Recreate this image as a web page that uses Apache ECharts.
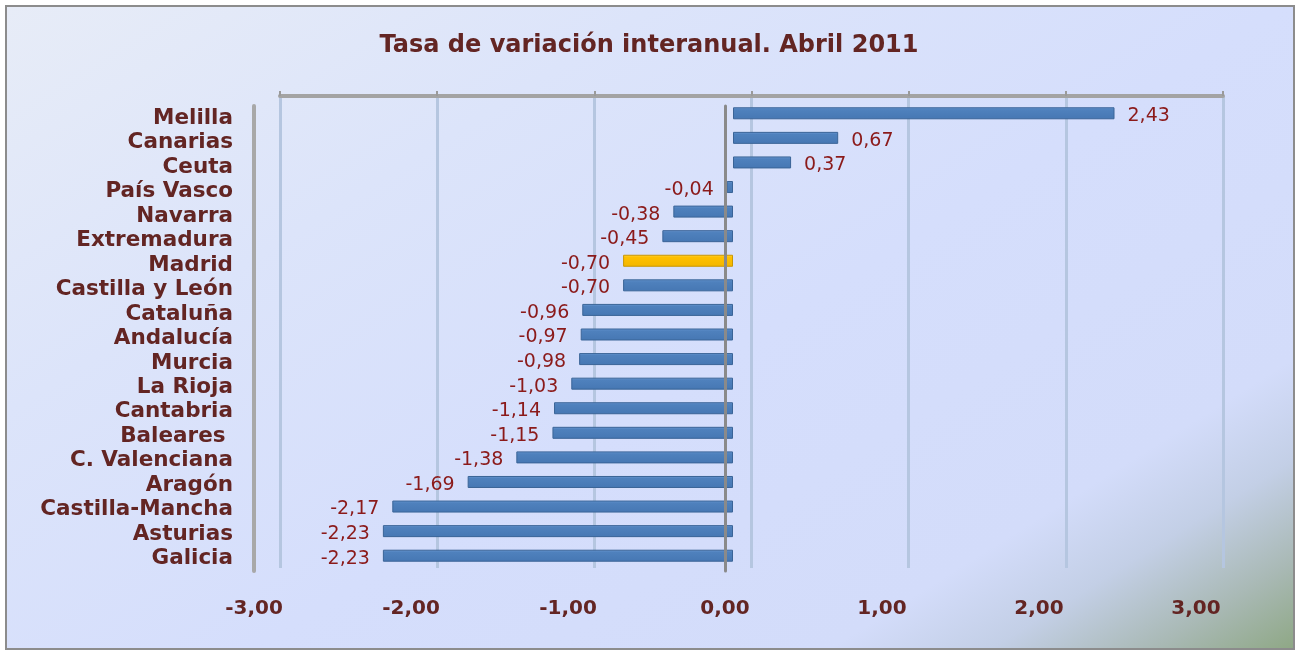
<!DOCTYPE html>
<html>
<head>
<meta charset="utf-8">
<script src="https://cdn.jsdelivr.net/npm/echarts@6/dist/echarts.min.js"></script>
<style>
html,body{margin:0;padding:0;width:1298px;height:653px;overflow:hidden;}
#frame{position:absolute;left:5px;top:5px;width:1290px;height:645px;box-sizing:border-box;border:2px solid #8c8c8c;
background:linear-gradient(148deg,#e7ecf7 0%,#dce4fa 28%,#d5defc 55%,#d3dcfa 80%,#c3cfe6 87%,#a9b9b5 94%,#8fa886 100%);}
#chart{position:absolute;left:0;top:0;width:1298px;height:653px;}
</style>
</head>
<body>
<div id="frame"></div>
<div id="chart"></div>
<script>
const categories = ['Melilla','Canarias','Ceuta','País Vasco','Navarra','Extremadura','Madrid','Castilla y León','Cataluña','Andalucía','Murcia','La Rioja','Cantabria','Baleares ','C. Valenciana','Aragón','Castilla-Mancha','Asturias','Galicia'];
const values = [2.43,0.67,0.37,-0.04,-0.38,-0.45,-0.70,-0.70,-0.96,-0.97,-0.98,-1.03,-1.14,-1.15,-1.38,-1.69,-2.17,-2.23,-2.23];
const highlighted = ['Madrid'];
const xMin = -3, xMax = 3, xStep = 1;
const titleText = 'Tasa de variación interanual. Abril 2011';

const fmt = v => v.toFixed(2).replace('.', ',');
const FONT = 'DejaVu Sans';
const blueGrad = new echarts.graphic.LinearGradient(0,0,0,1,[
  {offset:0,color:'#6d9bd6'},{offset:0.2,color:'#4f81bd'},{offset:1,color:'#4677b3'}]);
const yellowGrad = new echarts.graphic.LinearGradient(0,0,0,1,[
  {offset:0,color:'#ffd64d'},{offset:0.2,color:'#ffc000'},{offset:1,color:'#f2b600'}]);

const chart = echarts.init(document.getElementById('chart'), null, {renderer:'canvas'});
chart.setOption({
  backgroundColor: 'transparent',
  animation: false,
  title: {
    text: titleText, left: 'center', top: 29,
    textStyle: {fontFamily: FONT, fontSize: 24, fontWeight: 'bold', color: '#632523'}
  },
  grid: [
    {left: 280, right: 75, top: 96, bottom: 85},   // back wall
    {left: 262, right: 94, top: 101, bottom: 85},  // bars
    {left: 254, right: 102, top: 106, bottom: 82}  // front
  ],
  xAxis: [
    {gridIndex:0, type:'value', min:xMin, max:xMax, interval:xStep, position:'top',
     axisLine:{show:true, onZero:false, lineStyle:{color:'#a3a3a3', width:4}},
     axisTick:{show:true, length:5, lineStyle:{color:'#9a9a9a', width:2}},
     axisLabel:{show:false},
     splitLine:{show:true, lineStyle:{color:'#b5c6e0', width:3}}},
    {gridIndex:1, type:'value', min:xMin, max:xMax, interval:xStep, show:false},
    {gridIndex:2, type:'value', min:xMin, max:xMax, interval:xStep,
     axisLine:{show:false}, axisTick:{show:false}, splitLine:{show:false},
     axisLabel:{margin:28, formatter: fmt, fontFamily: FONT, fontSize: 20, fontWeight:'bold', color:'#632523'}}
  ],
  yAxis: [
    {gridIndex:0, type:'category', data:categories, inverse:true, show:false},
    {gridIndex:1, type:'category', data:categories, inverse:true, show:false},
    {gridIndex:2, type:'category', data:categories, inverse:true, z:5,
     axisLine:{show:true, onZero:true, lineStyle:{color:'#8a8a8a', width:3}},
     axisTick:{show:false}, axisLabel:{show:false}},
    {gridIndex:2, type:'category', data:categories, inverse:true, position:'left',
     axisLine:{show:true, onZero:false, lineStyle:{color:'#a8a8a8', width:4}},
     axisTick:{show:false},
     axisLabel:{interval:0, margin:21, fontFamily: FONT, fontSize: 21.5, fontWeight:'bold', color:'#632523'}}
  ],
  series: [{
    type:'bar', xAxisIndex:1, yAxisIndex:1, barWidth:12,
    data: values.map((v,i) => ({
      value: v,
      itemStyle: {color: highlighted.includes(categories[i]) ? yellowGrad : blueGrad,
                  borderColor: highlighted.includes(categories[i]) ? '#c99700' : '#3a6497', borderWidth: 1},
      label: {position: v >= 0 ? 'right' : 'left'}
    })),
    label: {show:true, distance:13, offset:[0,3], formatter: p => fmt(p.value),
      fontFamily: FONT, fontSize: 19, color:'#8b1a1a'}
  }]
});
</script>
</body>
</html>
